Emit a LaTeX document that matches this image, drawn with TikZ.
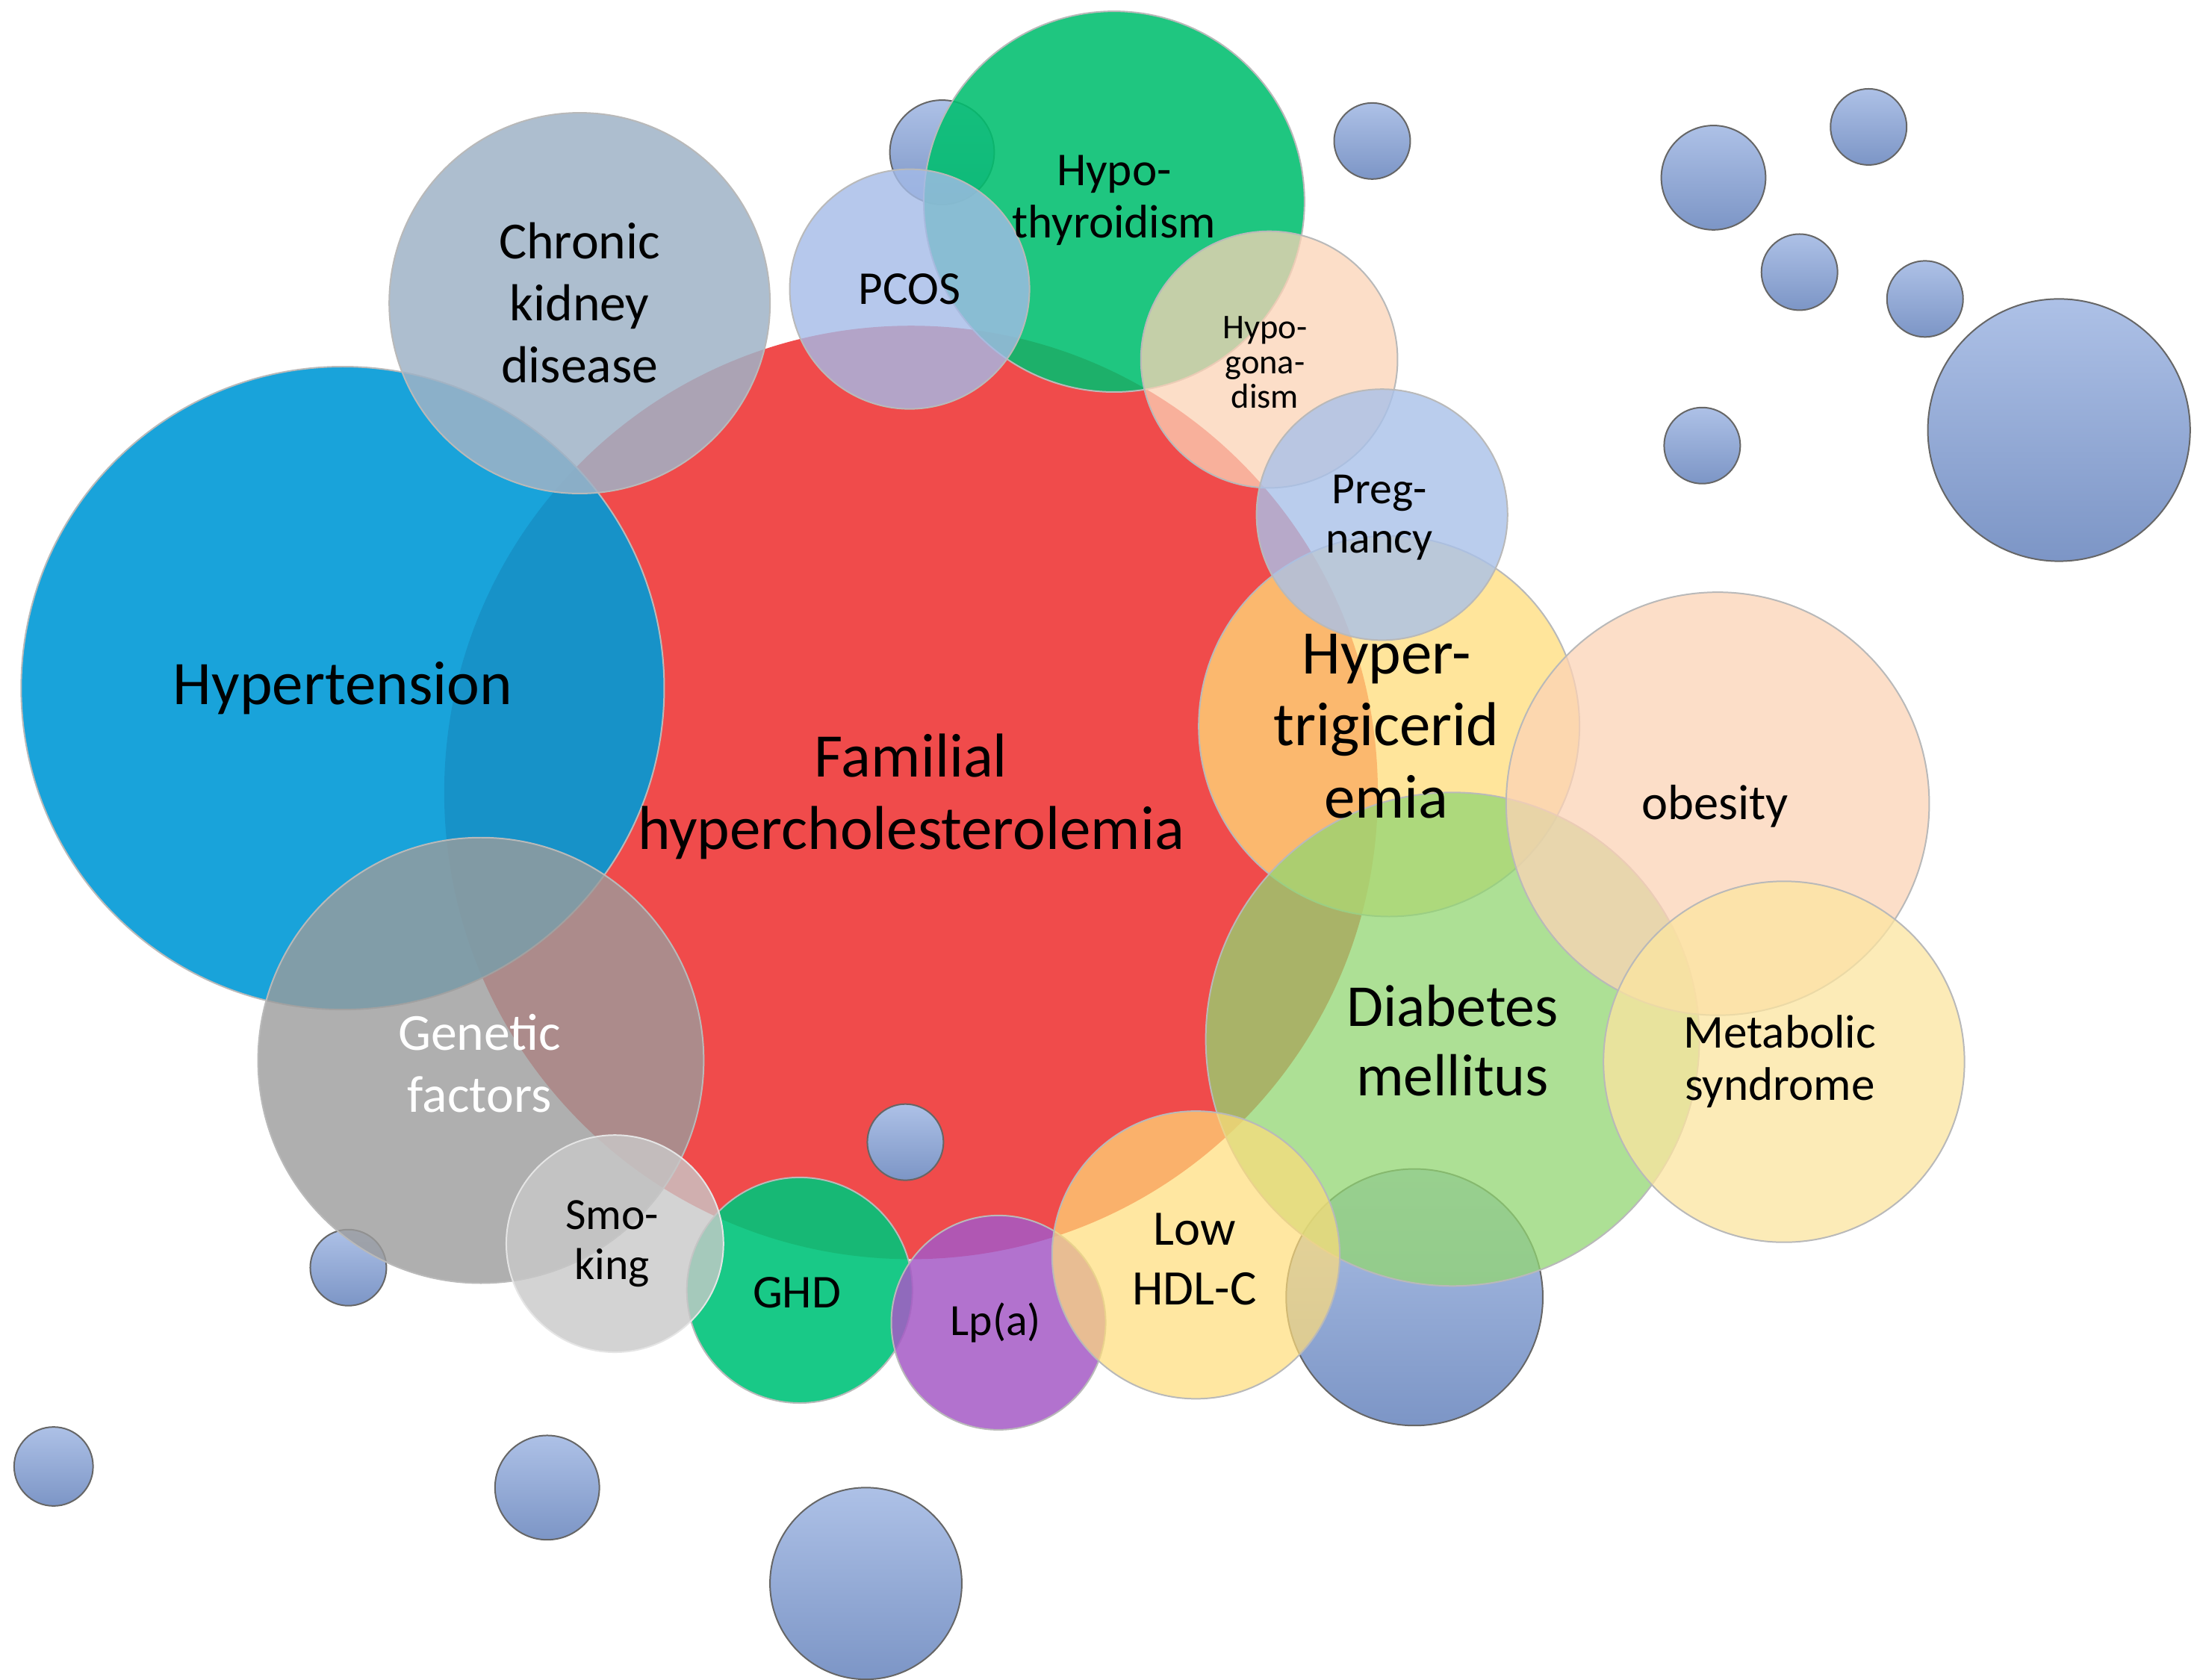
\documentclass[tikz,border=0pt]{standalone}
\usepackage{fontspec}
\setmainfont{Carlito}
\begin{document}
\begin{tikzpicture}[x=0.01cm,y=-0.01cm,
  sz/.style={minimum size=#1*0.01cm},
  bub/.style={circle,inner sep=0pt,draw=gray!55,line width=0.3pt,fill opacity=0.85},
  lab/.style={align=center,font=\fontsize{#1}{#1}\selectfont,inner sep=0pt}]
\definecolor{fhred}{HTML}{F04B4B}
\definecolor{htblue}{HTML}{009AD6}
\definecolor{ckd}{HTML}{9FB3C7}
\definecolor{gen}{HTML}{9C9C9C}
\definecolor{smk}{HTML}{C9C9C9}
\definecolor{ghd}{HTML}{00C47A}
\definecolor{lpa}{HTML}{A55AC6}
\definecolor{ylw}{HTML}{FFDD7A}
\definecolor{dia}{HTML}{92D672}
\definecolor{met}{HTML}{FCE5A0}
\definecolor{peach}{HTML}{FCD3B6}
\definecolor{preg}{HTML}{A9C1E9}
\definecolor{thy}{HTML}{00BF6F}
\definecolor{pcos}{HTML}{A4BBE8}
\definecolor{sbl}{HTML}{8AA6DC}
\tikzset{sb/.style={circle,inner sep=0pt,draw=black!60,line width=0.3pt,top color=sbl!70!white,bottom color=sbl!90!black}}
\useasboundingbox (0,0) rectangle (1560,1191);
\fill[white] (0,0) rectangle (1560,1191);
% background small bubbles
\node[sb,sz=74] (s1) at (668,108) {};
\node[sb,sz=54] (s2) at (973,100) {};
\node[sb,sz=74] (s3) at (1215,126) {};
\node[sb,sz=54] (s4) at (1325,90) {};
\node[sb,sz=54] (s5) at (1276,193) {};
\node[sb,sz=54] (s6) at (1365,212) {};
\node[sb,sz=54] (s7) at (1207,316) {};
\node[sb,sz=186] (s8) at (1460,305) {};
\node[sb,sz=54] (s10) at (247,899) {};
\node[sb,sz=56] (s11) at (38,1040) {};
\node[sb,sz=74] (s12) at (388,1055) {};
\node[sb,sz=136] (s13) at (614,1123) {};
% main
\node[bub,fill=fhred,fill opacity=1,draw=none,sz=662] (fh) at (646,562) {};
\node[sb,sz=54] (s9) at (642,810) {};
\node[sb,sz=182] (s14) at (1003,920) {};
\node[bub,fill=thy,fill opacity=0.88,sz=270] (thy) at (790,143) {};
\node[bub,fill=htblue,fill opacity=0.9,sz=456] (ht) at (243,488) {};
\node[bub,fill=ckd,fill opacity=0.85,sz=270] (ckd) at (411,215) {};
\node[bub,fill=pcos,fill opacity=0.8,sz=170] (pcos) at (645,205) {};
\node[bub,fill=peach,fill opacity=0.75,sz=182] (hgo) at (900,255) {};
\node[bub,fill=ylw,fill opacity=0.75,sz=270] (htg) at (985,515) {};
\node[bub,fill=preg,fill opacity=0.8,sz=178] (preg) at (980,365) {};
\node[bub,fill=dia,fill opacity=0.75,sz=350] (dm) at (1030,737) {};
\node[bub,fill=peach,fill opacity=0.75,sz=300] (ob) at (1218,570) {};
\node[bub,fill=met,fill opacity=0.75,sz=256] (ms) at (1265,753) {};
\node[bub,fill=gen,fill opacity=0.8,sz=316] (gen) at (341,752) {};
\node[bub,fill=ghd,fill opacity=0.9,sz=160] (ghd) at (567,915) {};
\node[bub,fill=smk,fill opacity=0.8,draw=white!80!gray,sz=154] (smk) at (436,882) {};
\node[bub,fill=lpa,fill opacity=0.85,sz=152] (lpa) at (708,938) {};
\node[bub,fill=ylw,fill opacity=0.7,sz=204] (hdl) at (848,890) {};
% labels
\node[lab=12.5] (tfh) at (646,565) {Familial\\[2pt]hypercholesterolemia};
\node[lab=12.5] (tht) at (243,488) {Hypertension};
\node[lab=10.5] (tckd) at (411,215) {Chronic\\[2pt]kidney\\[2pt]disease};
\node[lab=9.5] (tpcos) at (645,205) {PCOS};
\node[lab=9.5] (tthy) at (790,142) {Hypo-\\[1pt]thyroidism};
\node[lab=7] (thgo) at (897,257) {Hypo-\\gona-\\dism};
\node[lab=9] (tpreg) at (978,367) {Preg-\\[1pt]nancy};
\node[lab=12.5] (thtg) at (983,515) {Hyper-\\[2pt]trigicerid\\[2pt]emia};
\node[lab=10] (tob) at (1216,572) {obesity};
\node[lab=12] (tdm) at (1030,738) {Diabetes\\[2pt]mellitus};
\node[lab=9.5] (tms) at (1262,753) {Metabolic\\[1pt]syndrome};
\node[lab=10.5,text=white] (tgen) at (340,754) {Genetic\\[2pt]factors};
\node[lab=9] (tsmk) at (434,882) {Smo-\\[1pt]king};
\node[lab=9.5] (tghd) at (565,917) {GHD};
\node[lab=9] (tlpa) at (706,938) {Lp(a)};
\node[lab=10] (thdl) at (847,893) {Low\\[2pt]HDL-C};
\end{tikzpicture}
\end{document}
